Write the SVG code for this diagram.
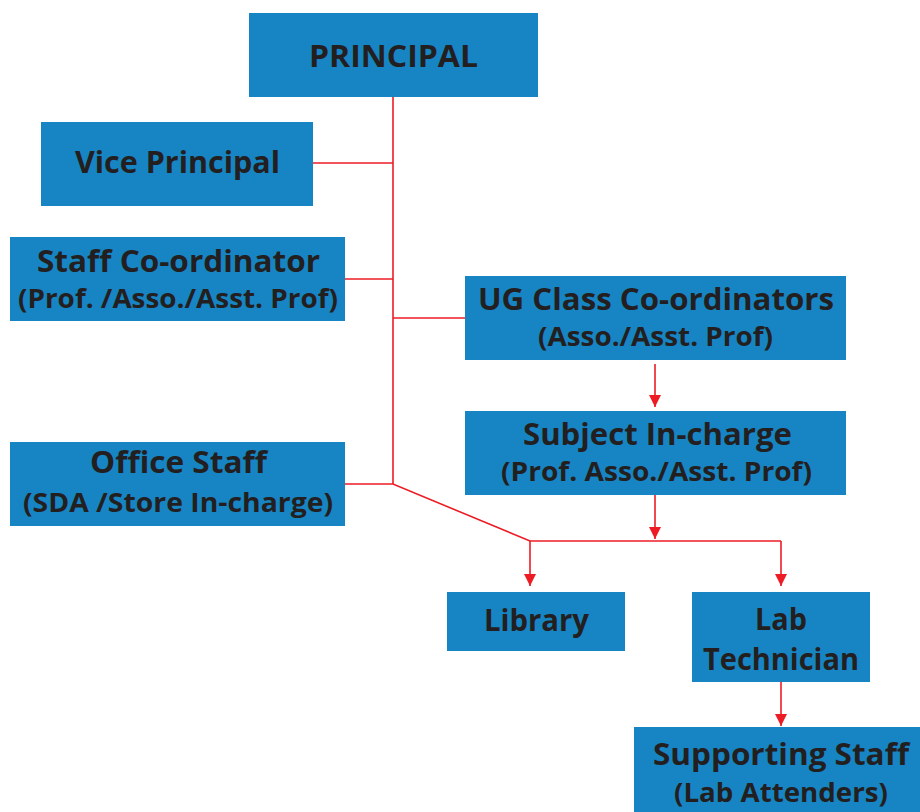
<svg xmlns="http://www.w3.org/2000/svg" width="920" height="812" viewBox="0 0 920 812">
<style>
.box{fill:#1785c3}
.t{font-family:"Open Sans","Noto Sans",sans-serif;font-weight:bold;fill:#231f20;text-anchor:middle;font-size:31px}
.s{font-size:27px}
.l{stroke:#ed1c24;stroke-width:1.6;fill:none}
</style>
<defs>
<marker id="ah" viewBox="0 0 12 12" refX="12" refY="6" markerWidth="12" markerHeight="12" markerUnits="userSpaceOnUse" orient="auto">
<path d="M0,0 L12,6 L0,12 z" fill="#ed1c24"/>
</marker>
</defs>
<rect width="920" height="812" fill="#fff"/>
<g id="connectors">
<path class="l" d="M393,97 V484"/>
<path class="l" d="M313,163 H393"/>
<path class="l" d="M345,279 H393"/>
<path class="l" d="M393,318 H465"/>
<path class="l" d="M345,484 H393 L530,541 H781"/>
<path class="l" d="M530,541 V586" marker-end="url(#ah)"/>
<path class="l" d="M781,541 V586" marker-end="url(#ah)"/>
<path class="l" d="M655,495 V539" marker-end="url(#ah)"/>
<path class="l" d="M655,364 V407" marker-end="url(#ah)"/>
<path class="l" d="M781,682 V726" marker-end="url(#ah)"/>
</g>
<g id="principal"><rect class="box" x="249" y="13" width="289" height="84"/><text class="t" x="393.5" y="67" font-size="32" textLength="169" lengthAdjust="spacingAndGlyphs">PRINCIPAL</text></g>
<g id="vice"><rect class="box" x="41" y="122" width="272" height="84"/><text class="t" x="177.5" y="173" textLength="205" lengthAdjust="spacingAndGlyphs">Vice Principal</text></g>
<g id="staffco"><rect class="box" x="10" y="237" width="335" height="84"/><text class="t" x="178.5" y="272" textLength="283" lengthAdjust="spacingAndGlyphs">Staff Co-ordinator</text><text class="t s" x="178" y="308" textLength="320" lengthAdjust="spacingAndGlyphs">(Prof. /Asso./Asst. Prof)</text></g>
<g id="ugclass"><rect class="box" x="465" y="276" width="381" height="84"/><text class="t" x="656" y="310" textLength="356" lengthAdjust="spacingAndGlyphs">UG Class Co-ordinators</text><text class="t s" x="655.5" y="346" textLength="235" lengthAdjust="spacingAndGlyphs">(Asso./Asst. Prof)</text></g>
<g id="subject"><rect class="box" x="465" y="411" width="381" height="84"/><text class="t" x="657.5" y="445" textLength="269" lengthAdjust="spacingAndGlyphs">Subject In-charge</text><text class="t s" x="656.5" y="481" textLength="311" lengthAdjust="spacingAndGlyphs">(Prof. Asso./Asst. Prof)</text></g>
<g id="office"><rect class="box" x="10" y="442" width="335" height="84"/><text class="t" x="178.5" y="473" textLength="177" lengthAdjust="spacingAndGlyphs">Office Staff</text><text class="t s" x="178" y="512" textLength="310" lengthAdjust="spacingAndGlyphs">(SDA /Store In-charge)</text></g>
<g id="library"><rect class="box" x="447" y="592" width="178" height="59"/><text class="t" x="536.5" y="631" textLength="105" lengthAdjust="spacingAndGlyphs">Library</text></g>
<g id="labtech"><rect class="box" x="692" y="592" width="178" height="90"/><text class="t" x="781" y="630" textLength="52" lengthAdjust="spacingAndGlyphs">Lab</text><text class="t" x="781" y="670" textLength="156" lengthAdjust="spacingAndGlyphs">Technician</text></g>
<g id="support"><rect class="box" x="634" y="727" width="286" height="85"/><text class="t" x="781" y="765" textLength="256" lengthAdjust="spacingAndGlyphs">Supporting Staff</text><text class="t s" x="781" y="802" textLength="214" lengthAdjust="spacingAndGlyphs">(Lab Attenders)</text></g>
</svg>
